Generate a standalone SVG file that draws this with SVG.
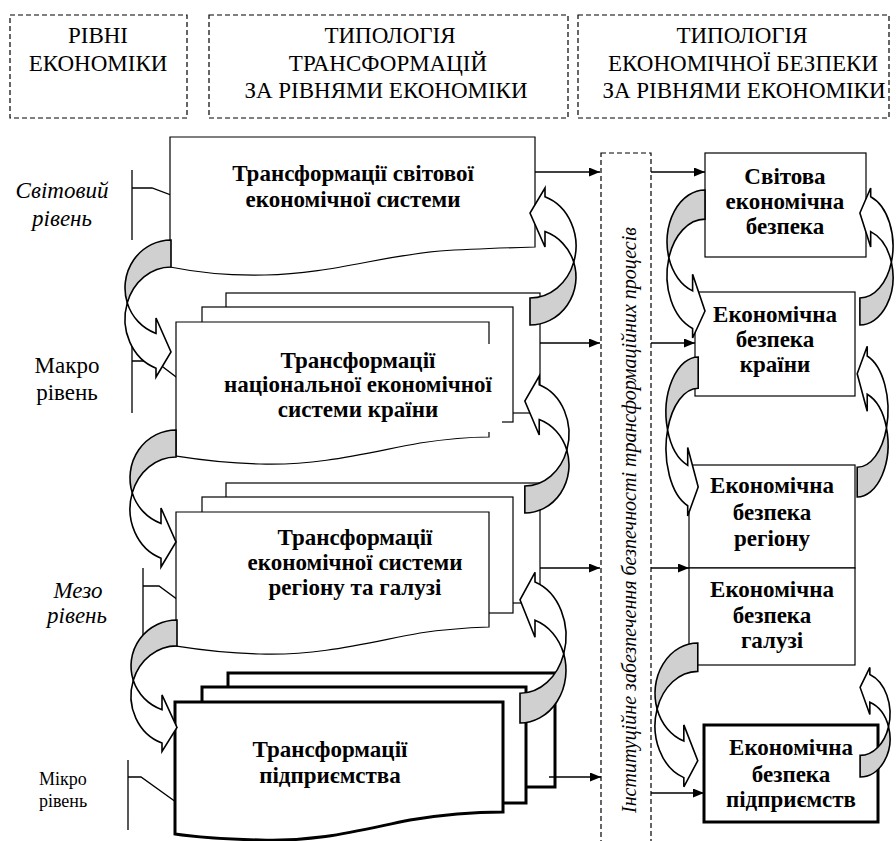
<svg xmlns="http://www.w3.org/2000/svg" xmlns:xlink="http://www.w3.org/1999/xlink" width="896" height="841" viewBox="0 0 896 841">
<style>
text{font-family:'Liberation Serif','Times New Roman',serif;fill:#000}
.hd{font-size:23px;text-anchor:middle}
.bt{font-size:23px;font-weight:bold;text-anchor:middle}
.lv{font-size:23px;text-anchor:middle}
.it{font-style:italic}
.dash{fill:none;stroke:#000;stroke-width:1.2;stroke-dasharray:5 3}
.box{fill:#fff;stroke:#000;stroke-width:1.2}
.tbox{fill:#fff;stroke:#000;stroke-width:3}
.ln{fill:none;stroke:#000;stroke-width:1.3}
.back{fill:#d0d0d0;stroke:#000;stroke-width:1.6;vector-effect:non-scaling-stroke}
.front{fill:#fff;stroke:#000;stroke-width:1.6;vector-effect:non-scaling-stroke}
.thin .back,.thin .front{stroke-width:0.9}
.ar{fill:none;stroke:#000;stroke-width:1.5;marker-end:url(#ah)}
</style>
<defs>
<marker id="ah" markerUnits="userSpaceOnUse" markerWidth="11" markerHeight="9" refX="11" refY="4.5" orient="auto">
<path d="M0,0 L11,4.5 L0,9 Z" fill="#000"/>
</marker>
<g id="carr">
<path class="back" d="M46,0 A46,48 0 0 0 2.27,62.88 A46,52 0 0 1 46,27 Z"/>
<path class="front" d="M2.27,62.88 A46,48 0 0 0 31,93.4 L31,78 L46,112 L31,137 L31,128.2 A46,52 0 0 1 2.27,62.88 Z"/>
</g>
</defs>
<rect width="896" height="841" fill="#fff"/>

<g id="header-levels">
<rect class="dash" x="10" y="15" width="177" height="103"/>
<text class="hd" x="98" y="43">РІВНІ</text>
<text class="hd" x="98" y="71">ЕКОНОМІКИ</text>
</g>
<g id="header-transform">
<rect class="dash" x="209" y="15" width="359" height="103"/>
<text class="hd" x="390" y="43">ТИПОЛОГІЯ</text>
<text class="hd" x="388" y="71">ТРАНСФОРМАЦІЙ</text>
<text class="hd" x="386" y="98">ЗА РІВНЯМИ ЕКОНОМІКИ</text>
</g>
<g id="header-security">
<rect class="dash" x="578" y="15" width="311" height="103"/>
<text class="hd" x="742" y="43">ТИПОЛОГІЯ</text>
<text class="hd" x="743" y="71">ЕКОНОМІЧНОЇ БЕЗПЕКИ</text>
<text class="hd" x="744" y="98">ЗА РІВНЯМИ ЕКОНОМІКИ</text>
</g>

<g id="level-world">
<text class="lv it" x="62" y="198">Світовий</text>
<text class="lv it" x="62" y="226">рівень</text>
<path class="ln" d="M132,170 V240 M132,188 H152 L219,213"/>
</g>
<g id="level-macro">
<text class="lv" x="67" y="373">Макро</text>
<text class="lv" x="67" y="400">рівень</text>
<path class="ln" d="M132,345 V413 M132,361 H155 L213,405"/>
</g>
<g id="level-meso">
<text class="lv it" x="78" y="598">Мезо</text>
<text class="lv it" x="77" y="623">рівень</text>
<path class="ln" d="M143,568 V635 M143,586 H159 L216,628"/>
</g>
<g id="level-micro">
<text x="63" y="785" style="font-size:18px;text-anchor:middle">Мікро</text>
<text x="63" y="807" style="font-size:18px;text-anchor:middle">рівень</text>
<path class="ln" d="M128,760 V830 M128,777 H141 L201,820"/>
</g>

<g id="tr-world">
<path class="box" d="M170,137 H535 V247 C500,248 470,249 440,251 C380,256 330,274 265,275 C225,276 195,272 170,267 Z"/>
<text class="bt" x="353" y="181">Трансформації світової</text>
<text class="bt" x="353" y="207">економічної системи</text>
</g>
<g id="tr-macro">
<rect class="box" x="226" y="293" width="314" height="120"/>
<rect class="box" x="202" y="307" width="311" height="115"/>
<path class="box" d="M176,322 H489 V437 C460,437 440,440 420,443 C370,452 320,466 260,464 C220,463 195,459 176,456 Z"/>
<rect x="210" y="344" width="292" height="88" fill="#fff"/>
<text class="bt" x="358" y="368">Трансформації</text>
<text class="bt" x="358" y="392">національної економічної</text>
<text class="bt" x="358" y="417">системи країни</text>
</g>
<g id="tr-meso">
<rect class="box" x="226" y="483" width="314" height="120"/>
<rect class="box" x="202" y="497" width="311" height="116"/>
<path class="box" d="M176,512 H489 V627 C460,628 440,630 420,633 C370,642 320,656 260,654 C220,653 195,649 176,646 Z"/>
<text class="bt" x="355" y="545">Трансформації</text>
<text class="bt" x="355" y="570">економічної системи</text>
<text class="bt" x="355" y="595">регіону та галузі</text>
</g>
<g id="tr-micro">
<rect class="tbox" x="228" y="673" width="327" height="114"/>
<rect class="tbox" x="202" y="687" width="324" height="116"/>
<path class="tbox" d="M175,702 H503 V812 C470,812 440,815 410,820 C360,830 320,842 260,840 C220,839 195,837 175,834 Z"/>
<text class="bt" x="330" y="757">Трансформації</text>
<text class="bt" x="330" y="783">підприємства</text>
</g>

<g id="institutional">
<rect class="dash" x="601" y="153" width="50" height="700"/>
<text transform="translate(636,520) rotate(-90)" style="font-size:20px;font-style:italic;text-anchor:middle">Інституційне забезпечення безпечності трансформаційних процесів</text>
</g>

<g id="sec-world">
<rect class="box" x="705" y="153" width="161" height="104"/>
<text class="bt" x="785" y="184">Світова</text>
<text class="bt" x="785" y="209">економічна</text>
<text class="bt" x="785" y="234">безпека</text>
</g>
<g id="sec-country">
<rect class="box" x="695" y="292" width="160" height="104"/>
<text class="bt" x="775" y="322">Економічна</text>
<text class="bt" x="775" y="347">безпека</text>
<text class="bt" x="775" y="372">країни</text>
</g>
<g id="sec-region">
<rect class="box" x="689" y="465" width="166" height="103"/>
<text class="bt" x="772" y="493">Економічна</text>
<text class="bt" x="772" y="520">безпека</text>
<text class="bt" x="772" y="546">регіону</text>
</g>
<g id="sec-branch">
<rect class="box" x="689" y="568" width="166" height="97"/>
<text class="bt" x="772" y="597">Економічна</text>
<text class="bt" x="772" y="623">безпека</text>
<text class="bt" x="772" y="648">галузі</text>
</g>
<g id="sec-enterprise">
<rect class="tbox" x="704" y="725" width="174" height="97"/>
<text class="bt" x="791" y="755">Економічна</text>
<text class="bt" x="791" y="782">безпека</text>
<text class="bt" x="791" y="807">підприємств</text>
</g>

<g id="connectors">
<path class="ar" d="M535,172 H600"/>
<path class="ar" d="M651,172 H705"/>
<path class="ar" d="M540,343 H600"/>
<path class="ar" d="M651,343 H695"/>
<path class="ar" d="M540,568 H600"/>
<path class="ar" d="M651,568 H689"/>
<path class="ar" d="M549,777 H601"/>
<path class="ar" d="M651,793 H704"/>
<use xlink:href="#carr" transform="translate(125,240)"/>
<use xlink:href="#carr" transform="translate(130,430)"/>
<use xlink:href="#carr" transform="translate(131,620) scale(1,0.96)"/>
<g class="thin">
<use xlink:href="#carr" transform="translate(576,325) scale(-1,-1)"/>
<use xlink:href="#carr" transform="translate(569,513) scale(-0.96,-1)"/>
<use xlink:href="#carr" transform="translate(566,723) scale(-1,-1.1)"/>
<use xlink:href="#carr" transform="translate(667,190) scale(0.826,1.08)"/>
<use xlink:href="#carr" transform="translate(666,357) scale(0.7,1.16)"/>
<use xlink:href="#carr" transform="translate(655,643) scale(0.93,1.05)"/>
<use xlink:href="#carr" transform="translate(893,325) scale(-0.72,-1)"/>
<use xlink:href="#carr" transform="translate(888,497) scale(-0.67,-1.1)"/>
<use xlink:href="#carr" transform="translate(890,777) scale(-0.65,-0.8)"/>
</g>
</g>
</svg>
